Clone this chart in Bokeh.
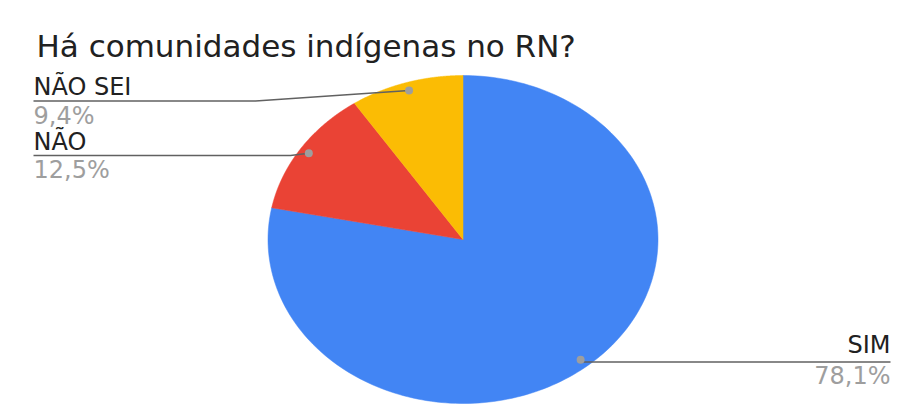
import numpy as np
from bokeh.plotting import figure
from bokeh.models import Range1d
from bokeh.core.properties import value
from bokeh.embed import file_html
from bokeh.resources import INLINE

# ---- data ----
title_text = "Há comunidades indígenas no RN?"
categories = ["SIM", "NÃO", "NÃO SEI"]
shares = [78.1, 12.5, 9.4]
share_labels = ["78,1%", "12,5%", "9,4%"]

# ---- styles / layout ----
colors = ["#4285F4", "#EA4335", "#FBBC04"]
FONT = "DejaVu Sans"
W, H = 907, 419
cx, cy, rx, ry = 462.5, 239.0, 195.0, 164.0
# label layout: (text x, name center y, pct center y, line y, elbow x, line end x, align)
label_layout = [
    (890, 344.5, 375, 361.5, None, 890, "right"),
    (33, 141, 169.5, 155, 290, 33, "left"),
    (33, 86, 115.5, 100.5, 255, 33, "left"),
]

p = figure(width=W, height=H, output_backend="svg", toolbar_location=None,
           x_range=Range1d(0, W), y_range=Range1d(H, 0),
           min_border=0, outline_line_color=None)
p.axis.visible = False
p.grid.visible = False
p.background_fill_color = "white"
p.border_fill_color = "white"

# pie slices (clockwise from top, in screen coordinates with y down)
fr = np.array(shares) / sum(shares)
cum = np.concatenate([[0], np.cumsum(fr)])
xs, ys = [], []
for i in range(len(shares)):
    t = np.linspace(cum[i], cum[i + 1], 200) * 2 * np.pi
    px = cx + rx * np.sin(t)
    py = cy - ry * np.cos(t)
    xs.append([cx] + list(px))
    ys.append([cy] + list(py))
p.patches(xs, ys, fill_color=colors, line_color=colors, line_width=0.5)

# leader lines, dots and labels
for i, cat in enumerate(categories):
    mid = (cum[i] + cum[i + 1]) / 2 * 2 * np.pi
    dx = cx + 0.95 * rx * np.sin(mid)
    dy = cy - 0.95 * ry * np.cos(mid)
    tx, ny, py_, ly, ex, lx, align = label_layout[i]
    if ex is None:
        p.line([dx, lx], [ly, ly], line_color="#616161", line_width=1.5)
    else:
        p.line([dx, ex, lx], [dy, ly, ly], line_color="#616161", line_width=1.5)
    p.scatter([dx], [dy], size=8, fill_color="#9E9E9E", line_color=None)
    p.text([tx], [ny], text=[cat], text_font=value(FONT), text_font_size="24px",
           text_color="#212121", text_align=align, text_baseline="middle")
    p.text([tx], [py_], text=[share_labels[i]], text_font=value(FONT),
           text_font_size="24px", text_color="#9E9E9E", text_align=align,
           text_baseline="middle")

p.text([36], [45], text=[title_text], text_font=value(FONT), text_font_size="31px",
       text_color="#212121", text_align="left", text_baseline="middle")

open("out.html", "w").write(file_html(p, INLINE))
